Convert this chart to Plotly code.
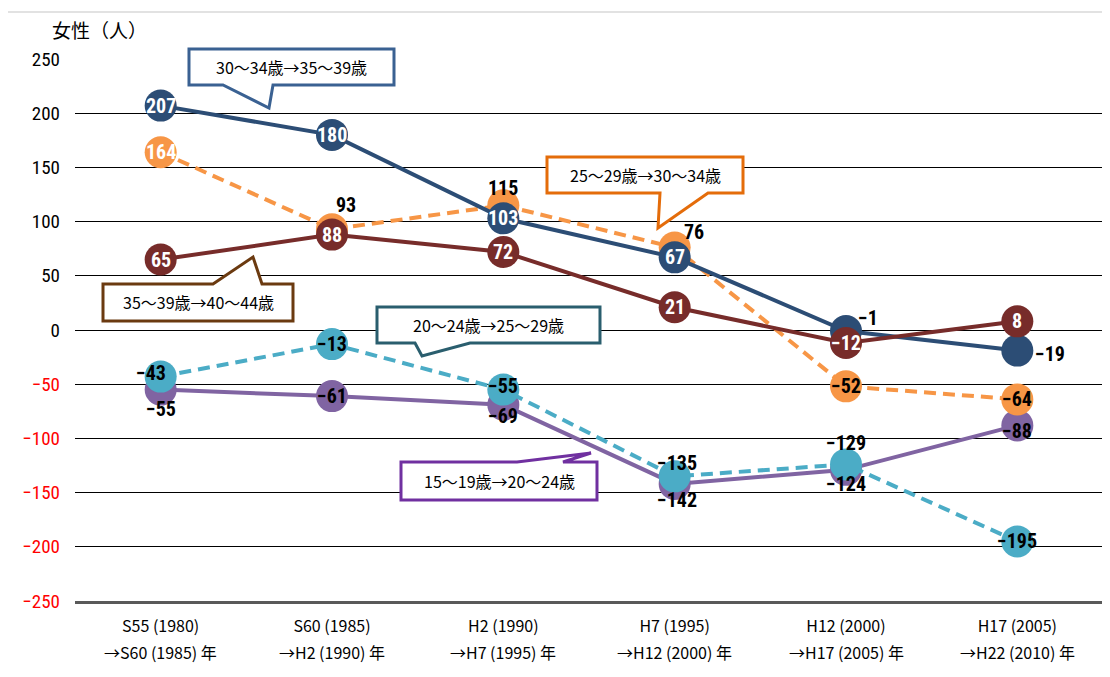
import plotly.graph_objects as go

# categories (x axis): start period / end period
period_from = ["S55 (1980)", "S60 (1985)", "H2 (1990)", "H7 (1995)", "H12 (2000)", "H17 (2005)"]
period_to = ["→S60 (1985) 年", "→H2 (1990) 年", "→H7 (1995) 年",
             "→H12 (2000) 年", "→H17 (2005) 年", "→H22 (2010) 年"]

age_15_19 = [-55, -61, -69, -142, -129, -88]
age_25_29 = [164, 93, 115, 76, -52, -64]
age_30_34 = [207, 180, 103, 67, -1, -19]
age_35_39 = [65, 88, 72, 21, -12, 8]
age_20_24 = [-43, -13, -55, -135, -124, -195]

y_ticks = [250, 200, 150, 100, 50, 0, -50, -100, -150, -200, -250]

# the page has an 8px body margin, so the figure is sized to fill the window from there
OFF = 8
W, H = 1102, 669
L, R, T, B = 67, 7, 51, 76
PW, PH = W - L - R, H - T - B


def px(x, y):
    # window pixel -> paper coordinates
    return (x - OFF - L) / PW, (H - B - (y - OFF)) / PH


def path_from(points):
    pts = [px(x, y) for x, y in points]
    return "M " + " L ".join(f"{a:.5f},{b:.5f}" for a, b in pts) + " Z"


NUM_FONT = "Liberation Sans Narrow, Roboto Condensed, Noto Sans CJK JP, sans-serif"
JP_FONT = "Noto Sans CJK JP, sans-serif"

# series: (name, values, colour, dash, label colour per point, label offsets per point)
series = [
    ("15～19歳→20～24歳", age_15_19, "#8064A2", "solid",
     ["black"] * 6, [(0, -19), (0, 0), (0, -11), (2, -16), (0, 27), (0, -6)]),
    ("25～29歳→30～34歳", age_25_29, "#F79646", "dash",
     ["white", "black", "black", "black", "black", "black"],
     [(0, 0), (14, 24), (0, 17), (19, 16), (0, 0), (0, 0)]),
    ("30～34歳→35～39歳", age_30_34, "#2C4D75", "solid",
     ["white", "white", "white", "white", "black", "black"],
     [(0, 0), (0, 0), (0, 0), (0, 0), (22, 13), (33, -3)]),
    ("35～39歳→40～44歳", age_35_39, "#772C2A", "solid",
     ["white"] * 6, [(0, 0)] * 6),
    ("20～24歳→25～29歳", age_20_24, "#4BACC6", "dash",
     ["black"] * 6, [(-10, 4), (0, 0), (0, 4), (2, 13), (0, -20), (0, 0)]),
]

fig = go.Figure()
annotations = []
for name, vals, color, dash, lab_cols, offs in series:
    fig.add_trace(
        go.Scatter(
            x=period_from,
            y=vals,
            mode="lines+markers",
            name=name,
            line=dict(color=color, width=4, dash="12px,7px" if dash == "dash" else "solid"),
            marker=dict(color=color, size=32, line=dict(width=0)),
            showlegend=False,
            hoverinfo="skip",
        )
    )
    for xv, yv, c, (dx, dy) in zip(period_from, vals, lab_cols, offs):
        annotations.append(
            dict(
                x=xv, y=yv, xref="x", yref="y",
                text=f"<b>{str(yv).replace('-', '−')}</b>",
                showarrow=False,
                xshift=dx, yshift=dy,
                font=dict(family=NUM_FONT, size=20, color=c),
            )
        )

# second line of each category label
_, line2_y = px(0, 652)
for xv, txt in zip(period_from, period_to):
    annotations.append(dict(x=xv, y=line2_y, xref="x", yref="paper", text=txt, showarrow=False,
                            xanchor="center", yanchor="middle",
                            font=dict(family=JP_FONT, size=16, color="black")))

# callout boxes: outline points in window pixels, text centre, colour
callouts = [
    ("30～34歳→35～39歳", "#3A6192",
     [(189, 49), (394, 49), (394, 85), (273, 85), (269, 108), (223, 85), (189, 85)], (291, 67)),
    ("25～29歳→30～34歳", "#E46C0A",
     [(547, 157), (743, 157), (743, 193), (708, 193), (658, 228), (660, 193), (547, 193)], (645, 175)),
    ("35～39歳→40～44歳", "#6B3A10",
     [(103, 284), (213, 284), (253, 257), (262, 284), (293, 284), (293, 321), (103, 321)], (198, 302)),
    ("20～24歳→25～29歳", "#2A5E6E",
     [(377, 307), (600, 307), (600, 343), (470, 343), (422, 356), (415, 343), (377, 343)], (488, 325)),
    ("15～19歳→20～24歳", "#7030A0",
     [(401, 462), (517, 462), (591, 453), (563, 462), (597, 462), (597, 500), (401, 500)], (499, 481)),
]

shapes = []
# outer chart frame
fx0, fy0 = px(7, 12)
fx1, fy1 = px(1120, 690)
shapes.append(dict(type="rect", xref="paper", yref="paper", x0=fx0, y0=fy1, x1=fx1, y1=fy0,
                   line=dict(color="#D9D9D9", width=1.5), fillcolor="rgba(0,0,0,0)", layer="below"))

for text, color, pts, (tx, ty) in callouts:
    shapes.append(dict(type="path", xref="paper", yref="paper", path=path_from(pts),
                       line=dict(color=color, width=3), fillcolor="white", layer="above"))
    ax, ay = px(tx, ty)
    annotations.append(dict(x=ax, y=ay, xref="paper", yref="paper", text=text, showarrow=False,
                            xanchor="center", yanchor="middle",
                            font=dict(family=JP_FONT, size=16, color="black")))

# y axis title
tx, ty = px(50, 30)
annotations.append(dict(x=tx, y=ty, xref="paper", yref="paper", text="女性（人）", showarrow=False,
                        xanchor="left", yanchor="middle",
                        font=dict(family=JP_FONT, size=19, color="black")))

tick_text = [
    (f"<span style='color:red'>{str(v).replace('-', '−')}</span>" if v < 0 else str(v))
    for v in y_ticks
]

fig.update_layout(
    width=W, height=H,
    margin=dict(l=L, r=R, t=T, b=B),
    paper_bgcolor="white",
    plot_bgcolor="white",
    shapes=shapes,
    annotations=annotations,
    xaxis=dict(
        range=[-0.5, 5.5],
        showgrid=False,
        showline=True, linecolor="#595959", linewidth=3,
        ticks="",
        ticklabelstandoff=9,
        tickfont=dict(family=JP_FONT, size=16, color="black"),
        fixedrange=True,
    ),
    yaxis=dict(
        range=[-250, 250],
        tickvals=y_ticks,
        ticktext=tick_text,
        showgrid=True, gridcolor="black", gridwidth=1,
        zeroline=False,
        showline=False,
        ticks="",
        ticklabelstandoff=14,
        tickfont=dict(family=NUM_FONT, size=19, color="black"),
        fixedrange=True,
    ),
)

fig.write_html("out.html")
